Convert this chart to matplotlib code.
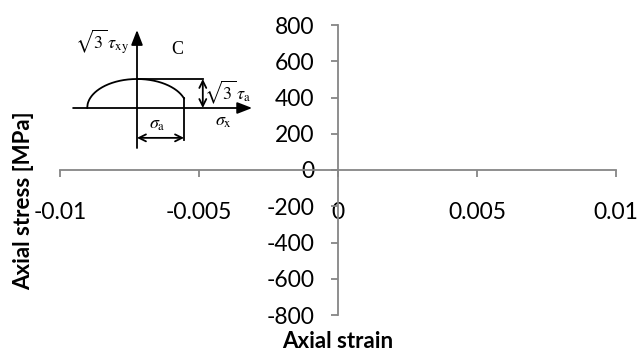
import numpy as np
import matplotlib
matplotlib.use("Agg")
import matplotlib.pyplot as plt

plt.rcParams["font.family"] = ["Lato", "DejaVu Sans"]
plt.rcParams["mathtext.fontset"] = "stix"

# main chart axes (no data series, only the frame)
x_ticks = [-0.01, -0.005, 0.0, 0.005, 0.01]
x_labels = ["-0.01", "-0.005", "0", "0.005", "0.01"]
y_ticks = [-800, -600, -400, -200, 0, 200, 400, 600, 800]
y_labels = [str(v) for v in y_ticks]

# schematic inset (units: sigma_a = 1, sqrt(3)*tau_a = 1)
sig_axis = [-1.36, 2.45]
tau_axis = [-1.38, 2.69]
ell_a, ell_b = 1.06, 1.0
sigma_a = 1.0
tau_a = 1.0

GRAY = "#868686"

fig = plt.figure(figsize=(6.39, 3.52), dpi=100)
ax = fig.add_axes([60 / 639, 37 / 352, 556 / 639, 290 / 352])
ax.set_xlim(x_ticks[0], x_ticks[-1])
ax.set_ylim(y_ticks[0], y_ticks[-1])
for s in ["top", "right"]:
    ax.spines[s].set_visible(False)
ax.spines["left"].set_position(("data", 0))
ax.spines["bottom"].set_position(("data", 0))
for s in ["left", "bottom"]:
    ax.spines[s].set_color(GRAY)
    ax.spines[s].set_linewidth(1.3)
ax.set_xticks(x_ticks)
ax.set_xticklabels(x_labels)
ax.set_yticks(y_ticks)
ax.set_yticklabels(y_labels)
ax.tick_params(axis="x", direction="out", length=5, width=1.3, color=GRAY,
               labelsize=16.5, pad=18)
ax.tick_params(axis="y", direction="out", length=5, width=1.3, color=GRAY,
               labelsize=16.5, pad=12)
ax.patch.set_visible(False)

fig.text(338 / 639, 1 - 342 / 352, "Axial strain", ha="center", va="center",
         fontsize=16, fontweight="bold")
fig.text(24 / 639, 1 - 201 / 352, "Axial stress [MPa]", ha="center", va="center",
         fontsize=16, fontweight="bold", rotation=90)

# inset schematic, 47 px per sigma unit, 29 px per tau unit, origin at (137, 108)
px_x, px_y = 47.0, 29.0
x0, y0 = 137, 108
l = x0 + sig_axis[0] * px_x
r = x0 + sig_axis[1] * px_x
t = y0 - tau_axis[1] * px_y
b = y0 - tau_axis[0] * px_y
ins = fig.add_axes([l / 639, 1 - b / 352, (r - l) / 639, (b - t) / 352])
ins.set_xlim(sig_axis)
ins.set_ylim(tau_axis)
ins.axis("off")

lw = 1.3
head = "-|>,head_length=0.9,head_width=0.35"
dbl = "<->,head_length=0.5,head_width=0.25"
ins.annotate("", xy=(sig_axis[1], 0), xytext=(sig_axis[0], 0),
             arrowprops=dict(arrowstyle=head, color="black", lw=lw,
                             shrinkA=0, shrinkB=0))
ins.annotate("", xy=(0, tau_axis[1]), xytext=(0, tau_axis[0]),
             arrowprops=dict(arrowstyle=head, color="black", lw=lw,
                             shrinkA=0, shrinkB=0))

xs = np.linspace(-ell_a, sigma_a, 200)
ys = ell_b * np.sqrt(np.clip(1 - (xs / ell_a) ** 2, 0, None))
ins.plot(xs, ys, color="black", lw=lw)
ins.plot([sigma_a, sigma_a], [ys[-1], -1.1], color="black", lw=lw)
ins.plot([0, 1.4], [tau_a, tau_a], color="black", lw=lw)
ins.annotate("", xy=(1.4, tau_a), xytext=(1.4, 0),
             arrowprops=dict(arrowstyle=dbl, color="black", lw=lw,
                             shrinkA=0, shrinkB=0))
ins.annotate("", xy=(0, -1.03), xytext=(sigma_a, -1.03),
             arrowprops=dict(arrowstyle=dbl, color="black", lw=lw,
                             shrinkA=0, shrinkB=0))

fs = 13
ins.text(-0.16, 2.3, r"$\sqrt{3}\,\tau_{\mathrm{xy}}$", ha="right", va="center",
         fontsize=fs)
ins.text(0.85, 2.0, "C", ha="center", va="center", fontsize=fs,
         family="Liberation Serif")
ins.text(1.43, 0.55, r"$\sqrt{3}\,\tau_{\mathrm{a}}$", ha="left", va="center",
         fontsize=fs)
ins.text(1.83, -0.5, r"$\sigma_{\mathrm{x}}$", ha="center", va="center",
         fontsize=fs)
ins.text(0.43, -0.6, r"$\sigma_{\mathrm{a}}$", ha="center", va="center",
         fontsize=fs)

fig.savefig("out.png", dpi=100)
